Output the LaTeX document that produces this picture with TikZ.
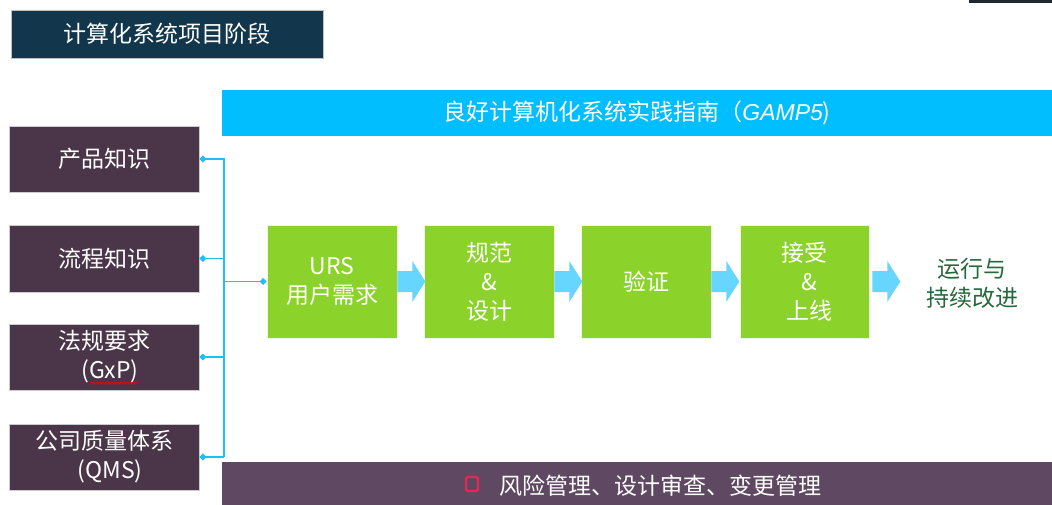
\documentclass[tikz,border=0pt]{standalone}
\usepackage{fontspec}
\setmainfont{Noto Sans CJK SC}
\newfontfamily\gampfont{Liberation Sans}
\usetikzlibrary{arrows.meta,calc,decorations.pathmorphing}
\definecolor{titlebg}{RGB}{18,54,75}
\definecolor{gampbg}{RGB}{0,190,255}
\definecolor{leftbg}{RGB}{74,54,72}
\definecolor{stepgreen}{RGB}{139,210,42}
\definecolor{arrowc}{RGB}{102,214,255}
\definecolor{linec}{RGB}{30,190,250}
\definecolor{riskbg}{RGB}{95,72,97}
\definecolor{opsgreen}{RGB}{38,105,60}
\definecolor{redsq}{RGB}{232,40,82}
\definecolor{topstrip}{RGB}{30,40,46}
\tikzset{
  txt/.style={font=\fontsize{23}{29}\selectfont, text=white, align=center},
  leftbox/.style={txt, rectangle, fill=leftbg, draw=black!20, line width=0.6pt,
    minimum width=190pt, minimum height=66pt, inner sep=0pt},
  stepbox/.style={txt, rectangle, fill=stepgreen, draw=white!85!stepgreen, line width=0.6pt,
    minimum width=130pt, minimum height=113pt, inner sep=0pt},
  bar/.style={txt, rectangle, inner sep=0pt, minimum width=830pt},
  conn/.style={draw=linec, line width=1.8pt},
  blockarrow/.style={fill=arrowc}
}
\newcommand{\blockarr}[1]{%
  \fill[blockarrow] ($(#1)+(0,-10.5)$) -- ++(15,0) -- ++(0,-10) -- ++(13,20.5)
    -- ++(-13,20.5) -- ++(0,-10) -- ++(-15,0) -- cycle;}
\begin{document}
\begin{tikzpicture}[x=1pt,y=-1pt]
\useasboundingbox (0,0) rectangle (1052,505);
\fill[white] (0,0) rectangle (1052,505);
\fill[topstrip] (969,0) rectangle (1052,3);

\node[txt, rectangle, fill=titlebg, draw=black!25, line width=0.6pt,
  minimum width=312pt, minimum height=48pt, inner sep=0pt] (title) at (167,34) {计算化系统项目阶段};

\node[bar, fill=gampbg, minimum height=46pt] (gamp) at (637,113)
  {良好计算机化系统实践指南（{\gampfont\itshape GAMP5})};

\node[leftbox] (b1) at (104,159) {产品知识};
\node[leftbox, minimum height=67pt] (b2) at (104,258.5) {流程知识};
\node[leftbox] (b3) at (104,357) {法规要求\\\hspace*{12pt}(GxP)};
\node[leftbox] (b4) at (104,457) {公司质量体系\\\hspace*{12pt}(QMS)};
\draw[red, line width=0.7pt, decorate, decoration={snake, amplitude=1pt, segment length=3pt}]
  ($(b3.center)+(-14,26)$) -- ($(b3.center)+(33,26)$);

\node[stepbox] (urs) at (332,281.5) {URS\\用户需求};
\node[stepbox] (spec) at (489,281.5) {规范\\\&\\设计};
\node[stepbox] (verify) at (646,281.5) {验证};
\node[stepbox, minimum width=129pt] (accept) at (804.5,281.5) {接受\\\hspace*{10pt}\&\\\hspace*{10pt}上线};
\node[txt, text=opsgreen] (ops) at (972,283) {运行与\\持续改进};

\coordinate (bus) at (224,0);
\draw[conn, {Diamond[length=7pt,width=7pt]}-] (b1.east) -- (b1.east -| bus) -- (b4.east -| bus);
\draw[conn, {Diamond[length=7pt,width=7pt]}-] (b2.east) -- (b2.east -| bus);
\draw[conn, {Diamond[length=7pt,width=7pt]}-] (b3.east) -- (b3.east -| bus);
\draw[conn, {Diamond[length=7pt,width=7pt]}-] (b4.east) -- (b4.east -| bus);
\draw[conn, -{Diamond[length=7pt,width=7pt]}] (urs.west -| bus) -- (urs.west);

\blockarr{urs.east}
\blockarr{spec.east}
\blockarr{verify.east}
\blockarr{$(accept.east)+(3,0)$}

\node[bar, fill=riskbg, minimum height=43pt] (risk) at (637,483.5) {};
\node[txt] (risktext) at (660,486) {风险管理、设计审查、变更管理};
\node[rectangle, draw=redsq, line width=2.2pt, rounded corners=1.5pt,
  minimum width=12pt, minimum height=14pt, inner sep=0pt] (sq) at (472,484) {};
\end{tikzpicture}
\end{document}
